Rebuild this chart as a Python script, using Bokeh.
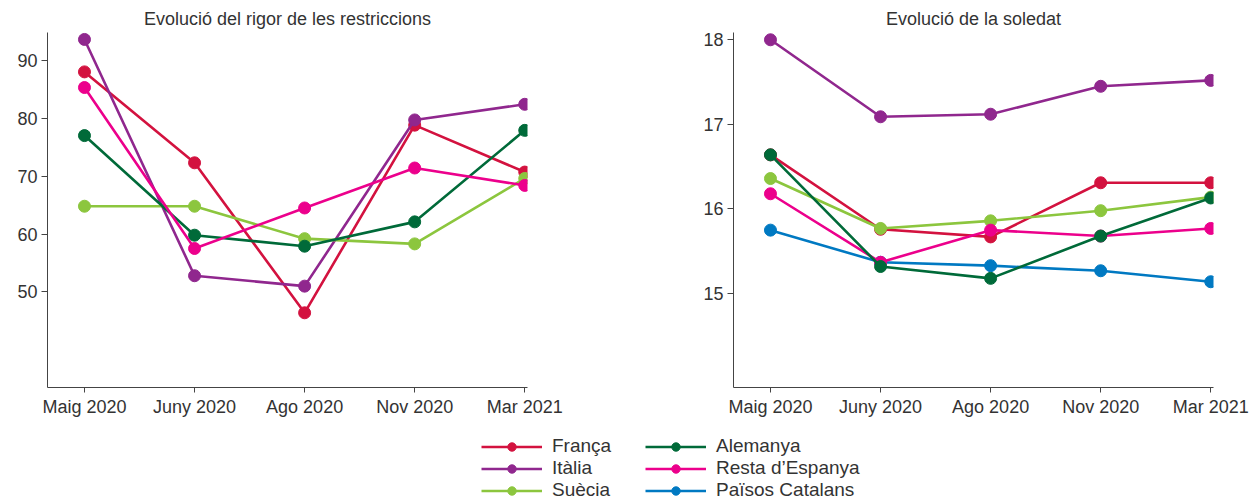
from bokeh.plotting import figure
from bokeh.models import Range1d, FixedTicker, Legend, LegendItem, ColumnDataSource
from bokeh.layouts import column, row
from bokeh.embed import file_html
from bokeh.resources import INLINE

# ---------------- data ----------------
months = ["Maig 2020", "Juny 2020", "Ago 2020", "Nov 2020", "Mar 2021"]

names = ["França", "Itàlia", "Suècia", "Alemanya", "Resta d\u2019Espanya", "Països Catalans"]
colors = ["#d3123f", "#90278e", "#8cc63e", "#006a39", "#ec008c", "#0079c2"]

# Evolució del rigor de les restriccions
rigor_franca = [88.0, 72.3, 46.4, 78.8, 70.7]
rigor_italia = [93.6, 52.8, 51.0, 79.7, 82.4]
rigor_suecia = [64.8, 64.8, 59.2, 58.3, 69.6]
rigor_alemanya = [77.0, 59.8, 57.9, 62.1, 77.9]
rigor_resta = [85.3, 57.5, 64.5, 71.4, 68.4]

# Evolució de la soledat
sol_franca = [16.64, 15.76, 15.67, 16.31, 16.31]
sol_italia = [18.00, 17.09, 17.12, 17.45, 17.52]
sol_suecia = [16.36, 15.77, 15.86, 15.98, 16.14]
sol_alemanya = [16.64, 15.32, 15.18, 15.68, 16.13]
sol_resta = [16.18, 15.37, 15.75, 15.68, 15.77]
sol_catalans = [15.75, 15.37, 15.33, 15.27, 15.14]

rigor_ticks = [50, 60, 70, 80, 90]
sol_ticks = [15, 16, 17, 18]

FONT = "Liberation Sans"
TXT = "#333333"
CHART_H = 419


def make_chart(title, series, yrange, yticks, width, bl, br):
    xs = list(range(len(months)))
    p = figure(width=width, height=CHART_H, output_backend="svg", toolbar_location=None,
               x_range=Range1d(-0.336, 4.025), y_range=Range1d(*yrange),
               min_border_left=bl, min_border_right=br, min_border_top=32, min_border_bottom=0)
    p.title.text = title
    p.title.align = "center"
    p.title.text_font = FONT
    p.title.text_font_size = "18px"
    p.title.text_font_style = "normal"
    p.title.text_color = TXT
    p.title.standoff = 7
    p.outline_line_color = None
    p.grid.visible = False
    for idx, vals in series:
        p.line(xs, vals, line_color=colors[idx], line_width=2.6)
        p.scatter(xs, vals, size=12, fill_color=colors[idx], line_color=colors[idx])
    p.xaxis.ticker = FixedTicker(ticks=xs)
    p.xaxis.major_label_overrides = {i: m for i, m in enumerate(months)}
    p.yaxis.ticker = FixedTicker(ticks=yticks)
    for ax in (p.xaxis, p.yaxis):
        ax.axis_line_color = "#444444"
        ax.major_tick_line_color = "#444444"
        ax.major_tick_in = 0
        ax.minor_tick_line_color = None
        ax.major_label_text_font = FONT
        ax.major_label_text_font_size = "18px"
        ax.major_label_text_color = TXT
        ax.major_label_standoff = 4
    p.xaxis.major_tick_out = 5
    p.yaxis.major_tick_out = 6
    return p


p1 = make_chart("Evolució del rigor de les restriccions",
                [(0, rigor_franca), (1, rigor_italia), (2, rigor_suecia),
                 (3, rigor_alemanya), (4, rigor_resta)],
                (33.5, 94.8), rigor_ticks, 640, 47, 113)
p2 = make_chart("Evolució de la soledat",
                [(5, sol_catalans), (0, sol_franca), (1, sol_italia), (2, sol_suecia),
                 (4, sol_resta), (3, sol_alemanya)],
                (13.89, 18.086), sol_ticks, 616, 93, 43)

# legend figure
pl = figure(width=1256, height=504 - CHART_H, output_backend="svg", toolbar_location=None,
            x_range=Range1d(0, 1), y_range=Range1d(0, 1),
            x_axis_location=None, y_axis_location=None,
            min_border=0)
pl.outline_line_color = None
pl.grid.visible = False
dummy = ColumnDataSource(data=dict(x=[-5, -4], y=[-5, -5]))
items = []
for i, n in enumerate(names):
    r1 = pl.line("x", "y", source=dummy, line_color=colors[i], line_width=2.6)
    r2 = pl.scatter("x", "y", source=dummy, size=12, fill_color=colors[i], line_color=colors[i])
    items.append(LegendItem(label=n, renderers=[r1, r2]))


def mk_legend(its, x):
    lg = Legend(items=its, location=(x, 3), orientation="vertical",
                padding=0, margin=0, spacing=0, glyph_width=61, glyph_height=21,
                label_height=21, label_standoff=10, border_line_color=None,
                background_fill_alpha=0, label_text_font=FONT,
                label_text_font_size="19px", label_text_color=TXT)
    return lg


pl.add_layout(mk_legend(items[:3], 481))
pl.add_layout(mk_legend(items[3:], 645))

layout = column(row(p1, p2), pl)
open("out.html", "w").write(file_html(layout, INLINE))
